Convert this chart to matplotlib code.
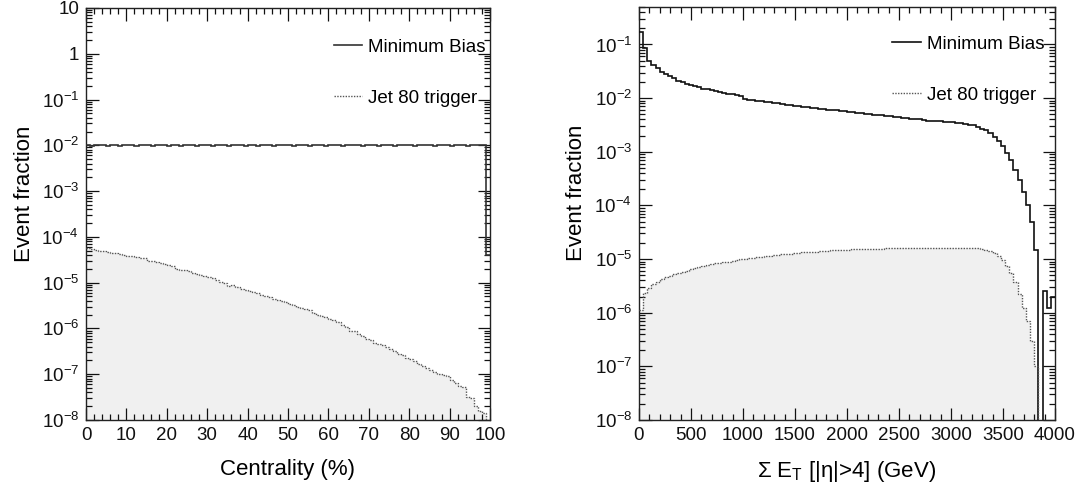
import numpy as np
import matplotlib
matplotlib.use("Agg")
import matplotlib.pyplot as plt
from matplotlib.ticker import FuncFormatter, LogLocator, MultipleLocator, NullFormatter

plt.rcParams['font.family'] = ['Liberation Sans', 'DejaVu Sans']
plt.rcParams['mathtext.fontset'] = 'custom'
plt.rcParams['mathtext.rm'] = 'Liberation Sans'
plt.rcParams['mathtext.it'] = 'Liberation Sans:italic'
plt.rcParams['mathtext.bf'] = 'Liberation Sans:bold'

# ---------------- data: left panel (centrality, 1% bins) ----------------
cent_edges = np.arange(0, 101, 1)
mb_cent = [
    0.0101, 0.0099, 0.0100, 0.0102, 0.0100, 0.0099, 0.0101, 0.0100, 0.0098, 0.0101,
    0.0100, 0.0102, 0.0099, 0.0100, 0.0101, 0.0100, 0.0099, 0.0101, 0.0102, 0.0100,
    0.0099, 0.0100, 0.0101, 0.0099, 0.0100, 0.0102, 0.0100, 0.0099, 0.0101, 0.0100,
    0.0101, 0.0099, 0.0100, 0.0100, 0.0102, 0.0099, 0.0100, 0.0101, 0.0100, 0.0099,
    0.0100, 0.0101, 0.0099, 0.0100, 0.0102, 0.0100, 0.0099, 0.0101, 0.0100, 0.0100,
    0.0101, 0.0099, 0.0100, 0.0102, 0.0100, 0.0099, 0.0100, 0.0101, 0.0100, 0.0099,
    0.0100, 0.0101, 0.0100, 0.0099, 0.0101, 0.0100, 0.0102, 0.0100, 0.0099, 0.0100,
    0.0101, 0.0100, 0.0099, 0.0100, 0.0101, 0.0100, 0.0099, 0.0101, 0.0100, 0.0102,
    0.0100, 0.0099, 0.0101, 0.0100, 0.0100, 0.0101, 0.0099, 0.0100, 0.0101, 0.0100,
    0.0099, 0.0100, 0.0101, 0.0100, 0.0099, 0.0101, 0.0100, 0.0102, 0.0101, 4.0e-5,
]
jet_cent = [
    5.6e-5, 5.4e-5, 5.2e-5, 5.0e-5, 4.9e-5, 4.7e-5, 4.5e-5, 4.4e-5, 4.2e-5, 4.0e-5,
    3.9e-5, 3.8e-5, 3.7e-5, 3.5e-5, 3.4e-5, 3.0e-5, 2.9e-5, 2.8e-5, 2.7e-5, 2.5e-5,
    2.4e-5, 2.3e-5, 2.0e-5, 1.9e-5, 1.85e-5, 1.8e-5, 1.65e-5, 1.55e-5, 1.5e-5, 1.4e-5,
    1.3e-5, 1.25e-5, 1.15e-5, 1.05e-5, 1.0e-5, 8.5e-6, 8.8e-6, 8.0e-6, 7.4e-6, 7.0e-6,
    6.6e-6, 6.2e-6, 5.9e-6, 5.5e-6, 5.1e-6, 4.8e-6, 4.5e-6, 4.2e-6, 3.9e-6, 3.7e-6,
    3.5e-6, 3.3e-6, 3.0e-6, 2.8e-6, 2.7e-6, 2.5e-6, 2.2e-6, 2.0e-6, 1.9e-6, 1.75e-6,
    1.6e-6, 1.5e-6, 1.35e-6, 1.2e-6, 1.1e-6, 9.0e-7, 8.6e-7, 7.6e-7, 6.8e-7, 6.0e-7,
    5.5e-7, 4.9e-7, 4.6e-7, 4.3e-7, 3.9e-7, 3.5e-7, 3.2e-7, 2.8e-7, 2.6e-7, 2.3e-7,
    2.1e-7, 1.9e-7, 1.7e-7, 1.5e-7, 1.35e-7, 1.25e-7, 1.1e-7, 1.0e-7, 9.5e-8, 9.0e-8,
    7.5e-8, 6.5e-8, 5.5e-8, 5.3e-8, 3.2e-8, 3.0e-8, 2.0e-8, 1.6e-8, 1.4e-8, 5.0e-9,
]

# ---------------- data: right panel (Sum E_T, 40 GeV bins) ----------------
et_edges = np.arange(0, 4001, 40)
mb_et = [
    0.17, 0.085, 0.050, 0.042, 0.036, 0.031, 0.028, 0.026, 0.024, 0.021,
    0.020, 0.0185, 0.0175, 0.0165, 0.016, 0.015, 0.0145, 0.014, 0.0135, 0.013,
    0.0127, 0.0122, 0.0118, 0.0112, 0.0108, 0.0098, 0.0094, 0.0092, 0.0090, 0.0088,
    0.0086, 0.0084, 0.0082, 0.0080, 0.0078, 0.0076, 0.0075, 0.0072, 0.0070, 0.0069,
    0.0068, 0.0066, 0.0065, 0.0063, 0.0062, 0.0061, 0.0060, 0.0059, 0.0058, 0.0057,
    0.0055, 0.0054, 0.0053, 0.0052, 0.0051, 0.0050, 0.0049, 0.0048, 0.00475, 0.0047,
    0.0046, 0.0045, 0.0044, 0.0043, 0.0042, 0.0041, 0.0040, 0.0040, 0.0039, 0.0038,
    0.0038, 0.0037, 0.0037, 0.0036, 0.0036, 0.0036, 0.0035, 0.0034, 0.0033, 0.0032,
    0.0031, 0.0029, 0.0027, 0.0025, 0.0022, 0.0019, 0.0016, 0.0013, 0.00095, 0.0007,
    0.00045, 0.0003, 0.00018, 0.0001, 5.0e-5, 1.5e-5, 0.0, 2.5e-6, 1.2e-6, 2.0e-6,
]
jet_et = [
    1.1e-6, 2.3e-6, 2.9e-6, 3.4e-6, 3.8e-6, 4.2e-6, 4.6e-6, 4.9e-6, 5.2e-6, 5.5e-6,
    5.8e-6, 6.1e-6, 6.4e-6, 6.8e-6, 7.2e-6, 7.5e-6, 7.8e-6, 8.0e-6, 8.3e-6, 8.5e-6,
    8.8e-6, 9.0e-6, 9.3e-6, 9.6e-6, 9.9e-6, 1.0e-5, 1.03e-5, 1.06e-5, 1.08e-5, 1.1e-5,
    1.12e-5, 1.15e-5, 1.17e-5, 1.2e-5, 1.22e-5, 1.25e-5, 1.27e-5, 1.29e-5, 1.31e-5, 1.33e-5,
    1.35e-5, 1.37e-5, 1.38e-5, 1.4e-5, 1.42e-5, 1.43e-5, 1.45e-5, 1.46e-5, 1.47e-5, 1.48e-5,
    1.5e-5, 1.51e-5, 1.52e-5, 1.53e-5, 1.54e-5, 1.55e-5, 1.56e-5, 1.56e-5, 1.57e-5, 1.58e-5,
    1.58e-5, 1.59e-5, 1.6e-5, 1.6e-5, 1.61e-5, 1.61e-5, 1.62e-5, 1.62e-5, 1.62e-5, 1.63e-5,
    1.63e-5, 1.63e-5, 1.63e-5, 1.64e-5, 1.63e-5, 1.63e-5, 1.63e-5, 1.62e-5, 1.62e-5, 1.61e-5,
    1.6e-5, 1.58e-5, 1.55e-5, 1.5e-5, 1.42e-5, 1.3e-5, 1.15e-5, 9.5e-6, 7.5e-6, 5.5e-6,
    3.8e-6, 2.2e-6, 1.2e-6, 7.0e-7, 3.0e-7, 1.0e-7, 0.0, 0.0, 0.0, 0.0,
]

labels = ["Minimum Bias", "Jet 80 trigger"]
xlabel_left = "Centrality (%)"
xlabel_right = r"Σ E$_{\mathrm{T}}$ [|η|>4] (GeV)"
ylabel = "Event fraction"

FLOOR = 1e-12


def logfmt(v, pos):
    e = int(round(np.log10(v)))
    if e == 1:
        return "10"
    if e == 0:
        return "1"
    return r"$\mathregular{10^{%d}}$" % e


def draw(ax, edges, mb, jet, xlim, ylim, xmaj, xmin, legend_anchor, mbcolor):
    mb = np.asarray(mb, float)
    jet = np.asarray(jet, float)
    mb_p = np.where(mb > 0, mb, FLOOR)
    jet_p = np.where(jet > 0, jet, FLOOR)
    ax.fill_between(edges, np.append(jet_p, jet_p[-1]), FLOOR, step='post',
                    color='#f0f0f0', lw=0, zorder=1)
    ax.stairs(mb_p, edges, baseline=None, color=mbcolor, lw=1.2, zorder=3,
              label=labels[0])
    ax.stairs(jet_p, edges, baseline=None, color='#555555', lw=1.0,
              linestyle=(0, (1, 1)), zorder=3, label=labels[1])
    ax.set_yscale('log')
    ax.set_xlim(*xlim)
    ax.set_ylim(*ylim)
    ax.xaxis.set_major_locator(MultipleLocator(xmaj))
    ax.xaxis.set_minor_locator(MultipleLocator(xmin))
    ax.yaxis.set_major_locator(LogLocator(base=10, numticks=20))
    ax.yaxis.set_minor_locator(LogLocator(base=10, subs=np.arange(2, 10), numticks=20))
    ax.yaxis.set_major_formatter(FuncFormatter(logfmt))
    ax.yaxis.set_minor_formatter(NullFormatter())
    ax.tick_params(which='both', direction='in', top=True, right=True,
                   labelsize=13.5, pad=5, width=0.9, colors='#111111')
    ax.tick_params(which='major', length=9)
    ax.tick_params(which='minor', length=4.5)
    for sp in ax.spines.values():
        sp.set_linewidth(1.0)
        sp.set_color('#222222')
    ax.set_ylabel(ylabel, fontsize=16)
    ax.yaxis.set_label_coords(-0.125, 0.55)
    leg = ax.legend(loc='upper right', bbox_to_anchor=legend_anchor, frameon=False,
                    fontsize=13.5, handlelength=1.5, handletextpad=0.35,
                    labelspacing=1.8, borderpad=0, borderaxespad=0)
    return leg


fig = plt.figure(figsize=(10.77, 4.97), dpi=100)
axL = fig.add_axes([86 / 1077, 1 - 420 / 497, (490 - 86) / 1077, (420 - 8) / 497])
axR = fig.add_axes([639 / 1077, 1 - 420 / 497, (1055 - 639) / 1077, (420 - 7) / 497])

draw(axL, cent_edges, mb_cent, jet_cent, (0, 100), (1e-8, 10), 10, 2,
     (0.99, 0.925), '#333333')
draw(axR, et_edges, mb_et, jet_et, (0, 4000), (1e-8, 0.5), 500, 100,
     (0.975, 0.93), '#111111')

axL.set_xlabel(xlabel_left, fontsize=16)
axR.set_xlabel(xlabel_right, fontsize=16)
axL.xaxis.set_label_coords(0.5, -0.095)
axR.xaxis.set_label_coords(0.5, -0.095)

fig.savefig("out.png", dpi=100)
